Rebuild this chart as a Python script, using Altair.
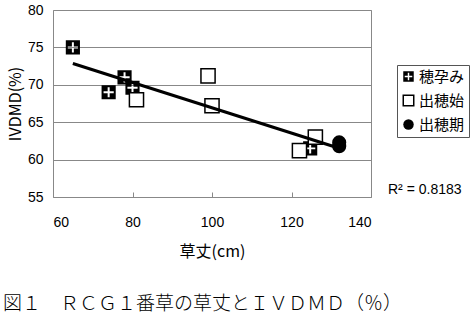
import altair as alt
import pandas as pd

# ---- data ----
series_names = ["穂孕み", "出穂始", "出穂期"]

boot_x = [65, 74, 78, 80, 124.7]
boot_y = [75, 69, 71, 69.6, 61.5]

start_x = [81, 99, 100, 122, 126]
start_y = [68, 71.2, 67.2, 61.2, 63]

head_x = [132, 132]
head_y = [62.3, 61.8]

x_ticks = [60, 80, 100, 120, 140]
y_ticks = [55, 60, 65, 70, 75, 80]

r2_text = "R² = 0.8183"
caption = "図１　ＲＣＧ１番草の草丈とＩＶＤＭＤ（％）"
x_title = "草丈(cm)"
y_title = "IVDMD(%)"

rows = []
for s, xs, ys in zip(series_names, [boot_x, start_x, head_x], [boot_y, start_y, head_y]):
    for x, y in zip(xs, ys):
        rows.append({"series": s, "h": x, "v": y})
df = pd.DataFrame(rows)

plus_square = ("M-1,-1L1,-1L1,1L-1,1Z"
               "M-0.14,-0.72L-0.14,-0.14L-0.72,-0.14L-0.72,0.14L-0.14,0.14L-0.14,0.72"
               "L0.14,0.72L0.14,0.14L0.72,0.14L0.72,-0.14L0.14,-0.14L0.14,-0.72Z")

JP = "Noto Sans CJK JP"
NUM = "Liberation Sans"

xscale = alt.Scale(domain=[60, 140], nice=False, zero=False)
yscale = alt.Scale(domain=[55, 80], nice=False, zero=False)

xaxis = alt.Axis(values=x_ticks, grid=False, domain=False, offset=-5, tickSize=5,
                 tickColor="#888", labelFont=NUM, labelFontSize=14, labelColor="black",
                 labelPadding=18, labelOverlap=False, title=x_title, titleFont=JP,
                 titleFontSize=16, titleFontWeight="normal", titleColor="black",
                 titlePadding=14)
yaxis = alt.Axis(values=y_ticks, grid=True, gridColor="#888", domain=False, ticks=False,
                 labelFont=NUM, labelFontSize=14, labelColor="black", labelPadding=10,
                 labelOverlap=False, title=y_title, titleFont=JP, titleFontSize=16,
                 titleFontWeight="normal", titleColor="black", titlePadding=4)

leg = alt.Legend(title=None, orient="none", legendX=344, legendY=55,
                 strokeColor="#555", padding=4, rowPadding=7, symbolSize=110,
                 labelFont=JP, labelFontSize=15, labelColor="black",
                 labelOffset=3, symbolStrokeWidth=1.5)

transparent = "rgba(0,0,0,0)"

points = alt.Chart(df).mark_point(filled=True, opacity=1, strokeWidth=1.5, size=200).encode(
    x=alt.X("h:Q", scale=xscale, axis=xaxis),
    y=alt.Y("v:Q", scale=yscale, axis=yaxis),
    shape=alt.Shape("series:N", scale=alt.Scale(domain=series_names,
                    range=[plus_square, "square", "circle"]), legend=leg),
    fill=alt.Fill("series:N", scale=alt.Scale(domain=series_names,
                  range=["black", "white", "black"]), legend=leg),
    stroke=alt.Stroke("series:N", scale=alt.Scale(domain=series_names,
                      range=[transparent, "black", transparent]), legend=leg),
)

trend = alt.Chart(df).transform_regression("h", "v").mark_line(
    color="black", strokeWidth=3
).encode(x=alt.X("h:Q", scale=xscale, axis=xaxis),
         y=alt.Y("v:Q", scale=yscale, axis=yaxis))

r2 = alt.Chart(alt.Data(values=[{"t": r2_text}])).mark_text(
    font=NUM, fontSize=14, align="left", baseline="middle", color="black"
).encode(text="t:N", x=alt.value(335), y=alt.value(180))

cap = alt.Chart(alt.Data(values=[{"t": caption}])).mark_text(
    font=JP, fontSize=19, align="left", baseline="middle", color="black", fontWeight=300
).encode(text="t:N", x=alt.value(-50), y=alt.value(294))

chart = alt.layer(points, trend, r2, cap).properties(
    width=318, height=187,
    autosize=alt.AutoSizeParams(type="none"),
    padding={"left": 53, "top": 10, "right": 105, "bottom": 125},
    background="white",
).configure_view(stroke="#888", strokeWidth=1)

chart.save("out.html", embed_options={"renderer": "svg", "actions": False})
